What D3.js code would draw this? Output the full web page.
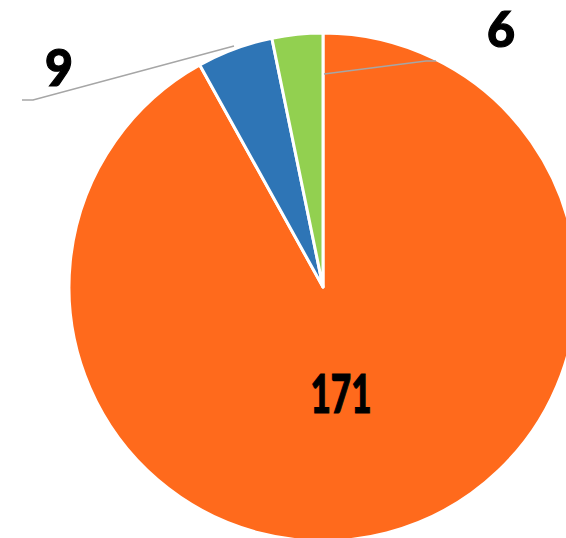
<!DOCTYPE html>
<html><head><meta charset="utf-8">
<script src="https://cdn.jsdelivr.net/npm/d3@7"></script>
<style>html,body{margin:0;padding:0;background:#fff;overflow:hidden}</style>
</head><body>
<svg id="chart" width="566" height="538"></svg>
<script>
const categories = ["A", "B", "C"];
const values = [171, 9, 6];
const colors = ["#FF6A1C", "#2E75B6", "#92D050"];

const svg = d3.select("#chart");
const cx = 323, cy = 287, r = 254;
const g = svg.append("g").attr("transform", `translate(${cx},${cy})`);
const pie = d3.pie().sort(null).value(d => d)(values);
const arc = d3.arc().innerRadius(0).outerRadius(r);
g.selectAll("path").data(pie).enter().append("path")
  .attr("d", arc).attr("fill", (d, i) => colors[i])
  .attr("stroke", "#fff").attr("stroke-width", 3).attr("stroke-linejoin", "round");

const font = "Lato, 'DejaVu Sans', sans-serif";
// leader lines
const lines = [
  [[234, 46], [33, 100], [22, 100]],
  [[324, 74], [426, 61], [436, 61]]
];
svg.selectAll("polyline").data(lines).enter().append("polyline")
  .attr("points", d => d.map(p => p.join(",")).join(" "))
  .attr("fill", "none").attr("stroke", "#A6A6A6").attr("stroke-width", 1.5);

const labels = [
  {t: values[0], x: 341, y: 413, s: 53, w: 61},
  {t: values[1], x: 59, y: 86, s: 51, w: 28},
  {t: values[2], x: 501, y: 47, s: 49, w: 28}
];
svg.selectAll("text.lbl").data(labels).enter().append("text")
  .attr("class", "lbl").attr("x", d => d.x).attr("y", d => d.y)
  .attr("text-anchor", "middle").attr("font-family", font).attr("font-weight", 900)
  .attr("font-size", d => d.s).attr("fill", "#000")
  .attr("textLength", d => d.w).attr("lengthAdjust", "spacingAndGlyphs")
  .attr("stroke", "#000").attr("stroke-width", 1.2)
  .text(d => d.t);
</script>
</body></html>
